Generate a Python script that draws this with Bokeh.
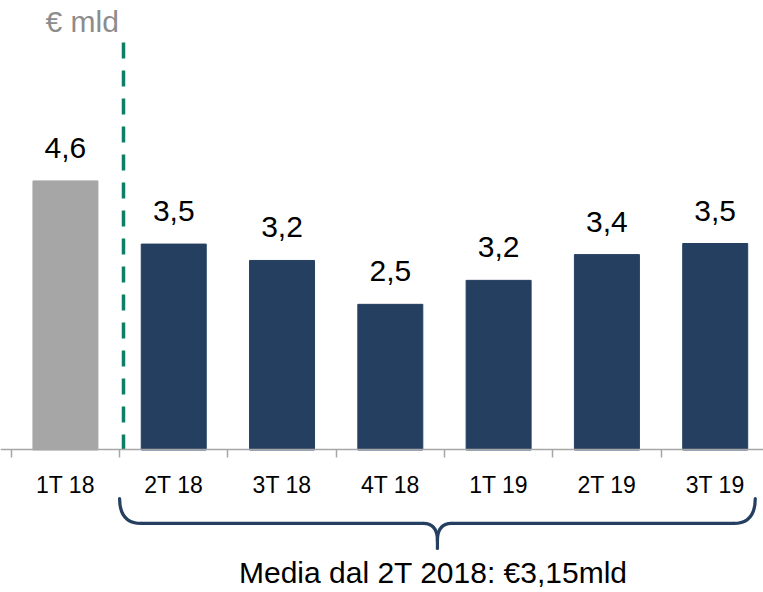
from bokeh.plotting import figure
from bokeh.models import ColumnDataSource, FixedTicker, LinearAxis, Range1d
from bokeh.core.properties import value
from bokeh.embed import file_html
from bokeh.resources import INLINE

# ---- data ----
categories = ["1T 18", "2T 18", "3T 18", "4T 18", "1T 19", "2T 19", "3T 19"]
bar_values = [4.60, 3.52, 3.24, 2.49, 2.90, 3.34, 3.53]
value_labels = ["4,6", "3,5", "3,2", "2,5", "3,2", "3,4", "3,5"]
bar_colors = ["#A6A6A6", "#253F61", "#253F61", "#253F61", "#253F61", "#253F61", "#253F61"]
unit_label = "€ mld"
average_label = "Media dal  2T 2018: €3,15mld"
average_first_index = 1  # first category included in the average (2T 18)

# ---- styling ----
NAVY = "#253F61"
GREEN = "#0F7E66"
AXIS_GRAY = "#A6A6A6"
FONT = value("Liberation Sans")

W, H = 763, 592
p = figure(width=W, height=H, output_backend="svg", toolbar_location=None,
           x_range=Range1d(-0.0997, 6.946), y_range=Range1d(-2.436, 7.684),
           min_border=0, x_axis_type=None, y_axis_type=None)
p.outline_line_color = None
p.grid.visible = False
p.background_fill_color = "white"
p.border_fill_color = "white"

n = len(categories)
centers = [i + 0.5 for i in range(n)]

src = ColumnDataSource(dict(x=centers, top=bar_values, color=bar_colors,
                            label=value_labels, cat=categories))

p.vbar(x="x", top="top", bottom=0, width=0.6, color="color", source=src)

p.text(x="x", y="top", text="label", source=src, text_align="center",
       text_baseline="middle", y_offset=-33, text_font=FONT,
       text_font_size="30px", text_color="#000000")

# x axis fixed at y = 0 with ticks between categories
xaxis = LinearAxis(fixed_location=0,
                   ticker=FixedTicker(ticks=centers, minor_ticks=list(range(n + 1))))
xaxis.major_label_overrides = {c: lab for c, lab in zip(centers, categories)}
xaxis.axis_line_color = AXIS_GRAY
xaxis.axis_line_width = 1.5
xaxis.major_tick_line_color = None
xaxis.major_tick_out = 0
xaxis.major_tick_in = 0
xaxis.minor_tick_line_color = AXIS_GRAY
xaxis.minor_tick_line_width = 1.5
xaxis.minor_tick_out = 8
xaxis.minor_tick_in = 0
xaxis.major_label_standoff = 14
xaxis.major_label_text_font = "Liberation Sans"
xaxis.major_label_text_font_size = "23px"
xaxis.major_label_text_color = "#000000"
p.add_layout(xaxis, "below")

# dashed separator after the first quarter
sep_x = average_first_index + 0.036
p.segment(x0=[sep_x], y0=[6.966], x1=[sep_x], y1=[0], line_color=GREEN,
          line_width=3.5, line_dash="16 12")

# unit label
p.text(x=[0.316], y=[7.325], text=[unit_label], text_align="left",
       text_baseline="middle", text_font=FONT, text_font_size="30px",
       text_color="#8C8C8C")

# curly brace under the averaged quarters
bx0 = float(average_first_index)
bx1 = n - 0.13
bm = (bx0 + bx1) / 2
y_top, y_mid, y_tip, y_cusp = -0.83, -1.256, -1.684, -1.55
r_end, r_mid = 0.2, 0.13
brace = dict(line_color=NAVY, line_width=3.2, line_cap="round")
p.quadratic(x0=[bx0, bm - r_mid, bm + r_mid, bx1 - r_end],
            y0=[y_top, y_mid, y_mid, y_mid],
            x1=[bx0 + r_end, bm, bm, bx1],
            y1=[y_mid, y_cusp, y_cusp, y_top],
            cx=[bx0, bm, bm, bx1],
            cy=[y_mid, y_mid, y_mid, y_mid], **brace)
p.segment(x0=[bx0 + r_end, bm + r_mid, bm], y0=[y_mid, y_mid, y_cusp],
          x1=[bm - r_mid, bx1 - r_end, bm], y1=[y_mid, y_mid, y_tip], **brace)

p.text(x=[bm], y=[-2.094], text=[average_label], text_align="center",
       text_baseline="middle", text_font=FONT, text_font_size="30px",
       text_color="#000000")

open("out.html", "w").write(file_html(p, INLINE))
